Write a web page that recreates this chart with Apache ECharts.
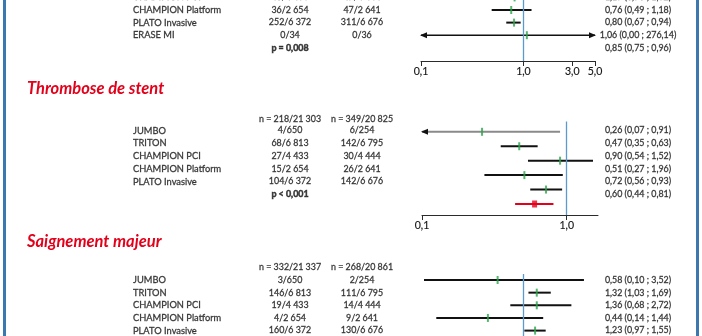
<!DOCTYPE html>
<html><head><meta charset="utf-8">
<script src="https://cdn.jsdelivr.net/npm/echarts@6/dist/echarts.min.js"></script>
<style>html,body{margin:0;padding:0;background:#fff}#c{width:702px;height:336px}</style>
</head><body><div id="c"></div>
<script>
// ================= DATA =================
// Section 1 (top, partly cut off)
const s1Studies = ['CHAMPION PCI', 'CHAMPION Platform', 'PLATO Invasive', 'ERASE MI'];
const s1N1 = ['40/4 433', '36/2 654', '252/6 372', '0/34'];
const s1N2 = ['47/4 444', '47/2 641', '311/6 676', '0/36'];
const s1HR = [0.82, 0.76, 0.81, 1.08];
const s1Lo = [0.62, 0.49, 0.68, 0.001];
const s1Hi = [1.10, 1.20, 0.94, 276.14];
const s1Labels = ['1,19 (0,90 ; 1,52)', '0,76 (0,49 ; 1,18)', '0,80 (0,67 ; 0,94)', '1,06 (0,00 ; 276,14)'];
const s1P = 'p = 0,008';
const s1Pooled = '0,85 (0,75 ; 0,96)';
const s1Ticks = [0.1, 1.0, 3.0, 5.0];
const s1TickLabels = ['0,1', '1,0', '3,0', '5,0'];

// Section 2
const s2Title = 'Thrombose de stent';
const s2Header = ['n = 218/21 303', 'n = 349/20 825'];
const s2Studies = ['JUMBO', 'TRITON', 'CHAMPION PCI', 'CHAMPION Platform', 'PLATO Invasive'];
const s2N1 = ['4/650', '68/6 813', '27/4 433', '15/2 654', '104/6 372'];
const s2N2 = ['6/254', '142/6 795', '30/4 444', '26/2 641', '142/6 676'];
const s2HR = [0.26, 0.47, 0.90, 0.51, 0.72];
const s2Lo = [0.07, 0.35, 0.54, 0.27, 0.56];
const s2Hi = [0.90, 0.63, 1.52, 0.94, 0.93];
const s2Labels = ['0,26 (0,07 ; 0,91)', '0,47 (0,35 ; 0,63)', '0,90 (0,54 ; 1,52)', '0,51 (0,27 ; 1,96)', '0,72 (0,56 ; 0,93)'];
const s2P = 'p < 0,001';
const s2PooledHR = [0.60];
const s2PooledLo = [0.44];
const s2PooledHi = [0.81];
const s2Pooled = '0,60 (0,44 ; 0,81)';
const s2Ticks = [0.1, 1.0];
const s2TickLabels = ['0,1', '1,0'];

// Section 3
const s3Title = 'Saignement majeur';
const s3Header = ['n = 332/21 337', 'n = 268/20 861'];
const s3Studies = ['JUMBO', 'TRITON', 'CHAMPION PCI', 'CHAMPION Platform', 'PLATO Invasive'];
const s3N1 = ['3/650', '146/6 813', '19/4 433', '4/2 654', '160/6 372'];
const s3N2 = ['2/254', '111/6 795', '14/4 444', '9/2 641', '130/6 676'];
const s3HR = [0.56, 1.35, 1.35, 0.45, 1.30];
const s3Lo = [0.107, 1.12, 0.745, 0.141, 1.02];
const s3Hi = [3.9, 1.85, 2.94, 1.56, 1.65];
const s3Labels = ['0,58 (0,10 ; 3,52)', '1,32 (1,03 ; 1,69)', '1,36 (0,68 ; 2,72)', '0,44 (0,14 ; 1,44)', '1,23 (0,97 ; 1,55)'];

// ================= STYLE / LAYOUT =================
const lg = v => Math.log10(v);
const FONT = 'Lato';
const TXT = '#141414';
const BLACK = '#111111';
const GRAY = '#8a8a8a';
const GREEN = '#2aa54a';
const RED = '#e2001a';
const REF = '#5a9bcf';
const BORDER = '#3a78ad';
const COL_NAME = 133, COL_N1 = 290, COL_N2 = 362, COL_HR = 638;
const NAME_SIZE = 9.3, NUM_SIZE = 8.9;

const grids = [], xAxes = [], yAxes = [], series = [];

function addGrid(left, width, top, height) {
  grids.push({left, width, top, height, containLabel: false, outerBoundsMode: 'none'});
  return grids.length - 1;
}
function rowAxis(gi, top, height, row0, rowH) {
  const min = (top - row0) / rowH;
  yAxes.push({type: 'value', gridIndex: gi, inverse: true, min, max: min + height / rowH, show: false});
  return yAxes.length - 1;
}
function plotXAxis(gi, max, ticks, tickLabels, show) {
  const cv = ticks ? ticks.map(lg) : [];
  xAxes.push({
    type: 'value', gridIndex: gi, min: -1, max: max, show: show,
    splitLine: {show: false},
    axisLine: {show: true, onZero: false, lineStyle: {color: '#2b2b2b', width: 1}},
    axisTick: {show: true, length: 5, customValues: cv, lineStyle: {color: '#2b2b2b', width: 1}},
    axisLabel: {show: true, customValues: cv, margin: 5, fontFamily: FONT, fontSize: 10.5, color: TXT,
      textBorderColor: TXT, textBorderWidth: 0.15,
      formatter: v => { const i = cv.findIndex(c => Math.abs(c - v) < 1e-6); return i >= 0 ? tickLabels[i] : ''; }}
  });
  return xAxes.length - 1;
}
function tableXAxis(gi) {
  xAxes.push({type: 'value', gridIndex: gi, min: 0, max: 702, show: false});
  return xAxes.length - 1;
}
function textSeries(xi, yi, items, align, bold, size) {
  series.push({
    type: 'scatter', xAxisIndex: xi, yAxisIndex: yi, symbolSize: 0, silent: true, clip: false, z: 5,
    data: items.map(d => ({value: [d[0], d[1]], name: d[2]})),
    label: {show: true, position: align === 'left' ? 'right' : 'inside', distance: 0,
      formatter: p => p.name, fontFamily: FONT, fontSize: size || NUM_SIZE, fontWeight: bold ? 'bold' : 'normal', color: TXT,
      textBorderColor: TXT, textBorderWidth: bold ? 0.5 : 0.3}
  });
}
function refSeries(xi, yi) {
  series.push({
    type: 'scatter', xAxisIndex: xi, yAxisIndex: yi, symbolSize: 0, silent: true, z: 1,
    data: [[0, -100]],
    markLine: {silent: true, symbol: ['none', 'none'], label: {show: false}, animation: false,
      lineStyle: {color: REF, width: 1.3, type: 'solid'}, data: [{xAxis: 0}]}
  });
}
function ciSeries(xi, yi, lo, hi, rows, colorFn, widthFn, xMin, xMax) {
  series.push({
    type: 'custom', xAxisIndex: xi, yAxisIndex: yi, silent: true, clip: false, z: 2,
    data: lo.map((l, i) => [lg(l), lg(hi[i]), rows[i], i]),
    encode: {x: [0, 1], y: 2},
    renderItem: (params, api) => {
      const l = api.value(0), h = api.value(1), r = api.value(2), idx = api.value(3);
      const col = colorFn(idx), w = widthFn(idx);
      const p1 = api.coord([Math.max(l, xMin), r]);
      const p2 = api.coord([Math.min(h, xMax), r]);
      const ch = [{type: 'line', shape: {x1: p1[0], y1: p1[1], x2: p2[0], y2: p2[1]}, style: {stroke: col, lineWidth: w}}];
      if (l < xMin) ch.push({type: 'polygon', shape: {points: [[p1[0] - 1, p1[1]], [p1[0] + 6, p1[1] - 3], [p1[0] + 6, p1[1] + 3]]}, style: {fill: BLACK}});
      if (h > xMax) ch.push({type: 'polygon', shape: {points: [[p2[0] + 1, p2[1]], [p2[0] - 6, p2[1] - 3], [p2[0] - 6, p2[1] + 3]]}, style: {fill: BLACK}});
      return {type: 'group', children: ch};
    }
  });
}
function markerSeries(xi, yi, hr, rows, color, size) {
  series.push({
    type: 'scatter', xAxisIndex: xi, yAxisIndex: yi, silent: true, clip: false, z: 3,
    symbol: 'rect', symbolSize: size, itemStyle: {color: color},
    data: hr.map((v, i) => [lg(v), rows[i]])
  });
}
const idx = n => Array.from({length: n}, (_, i) => i);

// ---------- Section 1 ----------
{
  const max = lg(5);
  const g = addGrid(421, 174, -10, 71);
  const xi = plotXAxis(g, max, s1Ticks, s1TickLabels, true);
  const yi = rowAxis(g, -10, 71, -2.6, 12.6);
  refSeries(xi, yi);
  ciSeries(xi, yi, s1Lo, s1Hi, idx(s1Lo.length), () => BLACK, i => i === 3 ? 1.5 : 2, -1, max);
  markerSeries(xi, yi, s1HR, idx(s1HR.length), GREEN, [2, 8]);
  const gt = addGrid(0, 702, -10, 71);
  const xt = tableXAxis(gt);
  const yt = rowAxis(gt, -10, 71, -2.6, 12.6);
  textSeries(xt, yt, s1Studies.map((s, i) => [COL_NAME, i, s]), 'left', false, NAME_SIZE);
  textSeries(xt, yt, s1N1.map((s, i) => [COL_N1, i, s]), 'center');
  textSeries(xt, yt, s1N2.map((s, i) => [COL_N2, i, s]), 'center');
  textSeries(xt, yt, s1Labels.map((s, i) => [COL_HR, i, s]).concat([[COL_HR, s1Labels.length, s1Pooled]]), 'center');
  textSeries(xt, yt, [[COL_N1, s1Studies.length, s1P]], 'center', true);
}
// ---------- Section 2 ----------
{
  const max = lg(1.646);
  const g = addGrid(422, 176, 121.5, 93.5);
  const xi = plotXAxis(g, max, s2Ticks, s2TickLabels, true);
  const yi = rowAxis(g, 121.5, 93.5, 131.8, 14.44);
  refSeries(xi, yi);
  ciSeries(xi, yi, s2Lo, s2Hi, idx(s2Lo.length), i => i === 0 ? GRAY : BLACK, () => 2, -1, max);
  markerSeries(xi, yi, s2HR, idx(s2HR.length), GREEN, [2, 8]);
  ciSeries(xi, yi, s2PooledLo, s2PooledHi, [s2Studies.length], () => RED, () => 2, -1, max);
  markerSeries(xi, yi, s2PooledHR, [s2Studies.length], RED, [5, 7]);
  const gt = addGrid(0, 702, 100, 110);
  const xt = tableXAxis(gt);
  const yt = rowAxis(gt, 100, 110, 130.5, 12.76);
  textSeries(xt, yt, [[COL_N1, -0.9, s2Header[0]], [COL_N2, -0.9, s2Header[1]]], 'center');
  textSeries(xt, yt, s2Studies.map((s, i) => [COL_NAME, i, s]), 'left', false, NAME_SIZE);
  textSeries(xt, yt, s2N1.map((s, i) => [COL_N1, i, s]), 'center');
  textSeries(xt, yt, s2N2.map((s, i) => [COL_N2, i, s]), 'center');
  textSeries(xt, yt, s2Labels.map((s, i) => [COL_HR, i, s]).concat([[COL_HR, s2Labels.length, s2Pooled]]), 'center');
  textSeries(xt, yt, [[COL_N1, s2Studies.length, s2P]], 'center', true);
}
// ---------- Section 3 ----------
{
  const max = lg(5);
  const g = addGrid(421, 174, 274, 80);
  const xi = plotXAxis(g, max, null, [], false);
  const yi = rowAxis(g, 274, 80, 280, 12.65);
  refSeries(xi, yi);
  ciSeries(xi, yi, s3Lo, s3Hi, idx(s3Lo.length), () => BLACK, () => 2, -1, max);
  markerSeries(xi, yi, s3HR, idx(s3HR.length), GREEN, [2, 8]);
  const gt = addGrid(0, 702, 255, 90);
  const xt = tableXAxis(gt);
  const yt = rowAxis(gt, 255, 90, 280, 12.65);
  textSeries(xt, yt, [[COL_N1, -1, s3Header[0]], [COL_N2, -1, s3Header[1]]], 'center');
  textSeries(xt, yt, s3Studies.map((s, i) => [COL_NAME, i, s]), 'left', false, NAME_SIZE);
  textSeries(xt, yt, s3N1.map((s, i) => [COL_N1, i, s]), 'center');
  textSeries(xt, yt, s3N2.map((s, i) => [COL_N2, i, s]), 'center');
  textSeries(xt, yt, s3Labels.map((s, i) => [COL_HR, i, s]), 'center');
}

const titleStyle = {fontFamily: FONT, fontStyle: 'italic', fontWeight: 'bold', fontSize: 16.5, color: RED};
const option = {
  animation: false,
  backgroundColor: '#ffffff',
  title: [
    {text: s2Title, left: 27, top: 80, padding: 0, textStyle: titleStyle},
    {text: s3Title, left: 27, top: 233, padding: 0, textStyle: titleStyle}
  ],
  grid: grids, xAxis: xAxes, yAxis: yAxes, series: series,
  graphic: [
    {type: 'line', shape: {x1: 4.5, y1: 0, x2: 4.5, y2: 336}, style: {stroke: BORDER, lineWidth: 3}},
    {type: 'line', shape: {x1: 697.5, y1: 0, x2: 697.5, y2: 336}, style: {stroke: BORDER, lineWidth: 3}}
  ]
};
const chart = echarts.init(document.getElementById('c'), null, {renderer: 'canvas', width: 702, height: 336});
chart.setOption(option);
</script>
</body></html>
